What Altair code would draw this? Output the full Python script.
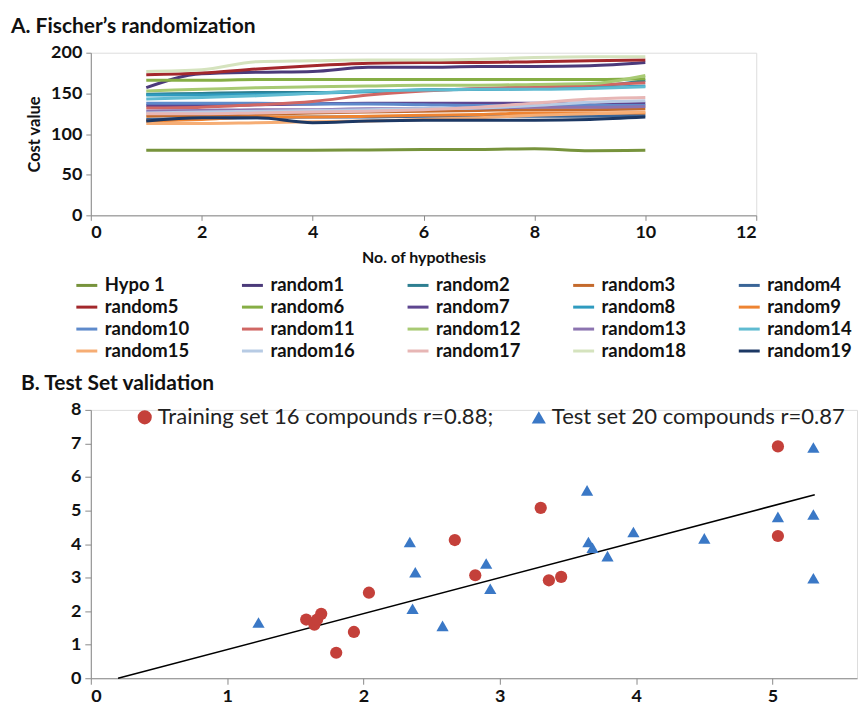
import altair as alt
import pandas as pd

# ---------------- Panel A data ----------------
hyp_x = [1, 2, 3, 4, 5, 6, 7, 8, 9, 10]

hypo1    = [80, 80, 80, 80, 80.5, 81, 81, 82, 79.5, 80]
random1  = [157, 174, 176, 177, 182, 182, 183, 183, 184, 188]
random2  = [149, 150, 151, 151, 153, 154, 155, 156, 158, 166]
random3  = [122, 123, 124, 126, 127, 128, 129, 130, 130, 131]
random4  = [118, 119, 120, 121, 121, 122, 122, 122, 122, 123]
random5  = [173, 175, 180, 184, 187, 188, 188, 189, 190, 191]
random6  = [166, 166, 167, 167, 167, 167, 167, 167, 167, 168]
random7  = [135, 135, 136, 137, 138, 138, 138, 138, 138, 138]
random8  = [148, 148, 149, 150, 152, 154, 155, 156, 157, 159]
random9  = [116, 118, 121, 121, 122, 123, 124, 126, 126, 126]
random10 = [138, 138, 138, 137, 137, 136, 135, 135, 135, 135]
random11 = [132, 133, 136, 140, 148, 153, 156, 158, 160, 163]
random12 = [153, 155, 157, 158, 159, 160, 160, 161, 162, 172]
random13 = [128, 129, 130, 130, 131, 131, 132, 133, 133, 134]
random14 = [143, 145, 147, 150, 153, 154, 155, 155, 156, 158]
random15 = [113, 113, 114, 115, 116, 118, 120, 123, 125, 127]
random16 = [126, 127, 128, 129, 130, 131, 132, 135, 139, 141]
random17 = [125, 125, 126, 127, 128, 130, 133, 138, 143, 145]
random18 = [177, 179, 189, 190, 191, 191, 192, 194, 195, 195]
random19 = [116, 120, 120, 114, 116, 117, 117, 117, 118, 121]

series_names = ["Hypo 1", "random1", "random2", "random3", "random4",
                "random5", "random6", "random7", "random8", "random9",
                "random10", "random11", "random12", "random13", "random14",
                "random15", "random16", "random17", "random18", "random19"]
series_values = [hypo1, random1, random2, random3, random4,
                 random5, random6, random7, random8, random9,
                 random10, random11, random12, random13, random14,
                 random15, random16, random17, random18, random19]
series_colors = ["#77933C", "#4B3A7A", "#2E7F91", "#C46A2C", "#3A6597",
                 "#A3282C", "#86AE45", "#5E4690", "#2F9BBF", "#EE8432",
                 "#5E8ACB", "#D06764", "#A8CA73", "#8C74B0", "#5FBBD1",
                 "#F6AD74", "#B7CBE4", "#E7B6B5", "#D5E3BE", "#1C3864"]

hyp_ticks = [0, 2, 4, 6, 8, 10, 12]
cost_ticks = [0, 50, 100, 150, 200]

# ---------------- Panel B data ----------------
train_label = "Training set 16 compounds r=0.88;"
test_label = "Test set 20 compounds r=0.87"

train_x = [1.58, 1.64, 1.66, 1.69, 1.80, 1.93, 2.04, 2.67, 2.82, 3.30, 3.36, 3.45, 5.04, 5.04]
train_y = [1.75, 1.60, 1.75, 1.92, 0.76, 1.38, 2.55, 4.12, 3.07, 5.08, 2.92, 3.02, 6.91, 4.24]

test_x = [1.23, 2.34, 2.38, 2.36, 2.58, 2.90, 2.93, 3.64, 3.65, 3.68, 3.79, 3.98, 4.50, 5.04, 5.30, 5.30, 5.30]
test_y = [1.66, 4.06, 3.16, 2.07, 1.56, 3.42, 2.67, 5.60, 4.06, 3.89, 3.64, 4.36, 4.17, 4.81, 6.88, 4.88, 2.98]

fit_x = [0.20, 5.31]
fit_y = [0.00, 5.47]

b_x_ticks = [0, 1, 2, 3, 4, 5]
b_y_ticks = [0, 1, 2, 3, 4, 5, 6, 7, 8]

FONT = "Lato"
AXIS_GRAY = "#8a8a8a"

# ---------------- Panel A ----------------
rows = []
for name, vals in zip(series_names, series_values):
    for xv, v in zip(hyp_x, vals):
        rows.append({"series": name, "hyp": xv, "cost": v})
df_top = pd.DataFrame(rows)

top = alt.Chart(df_top).mark_line(strokeWidth=3, interpolate="monotone").encode(
    x=alt.X("hyp:Q", scale=alt.Scale(domain=[0, 12], nice=False),
            axis=alt.Axis(title="No. of hypothesis", values=hyp_ticks, grid=False,
                          domainColor=AXIS_GRAY, tickColor=AXIS_GRAY, tickSize=5,
                          labelFont=FONT, labelFontWeight="bold", labelFontSize=18,
                          labelColor="#111", labelPadding=3,
                          titleFont=FONT, titleFontWeight="bold", titleFontSize=16,
                          titleColor="#111", titlePadding=8)),
    y=alt.Y("cost:Q", scale=alt.Scale(domain=[0, 200], nice=False),
            axis=alt.Axis(title="Cost value", values=cost_ticks, grid=False,
                          domainColor=AXIS_GRAY, tickColor=AXIS_GRAY, tickSize=5,
                          labelFont=FONT, labelFontWeight="bold", labelFontSize=18,
                          labelColor="#111", labelPadding=4,
                          titleFont=FONT, titleFontWeight="bold", titleFontSize=16.5,
                          titleColor="#111", titlePadding=8)),
    color=alt.Color("series:N",
                    scale=alt.Scale(domain=series_names, range=series_colors),
                    sort=series_names,
                    legend=alt.Legend(title=None, orient="none", legendX=-16, legendY=221,
                                      direction="horizontal", columns=5, gridAlign="all",
                                      columnPadding=46, rowPadding=0,
                                      symbolType="stroke", symbolSize=441,
                                      symbolStrokeWidth=3, labelOffset=6,
                                      labelFont=FONT, labelFontWeight="bold",
                                      labelFontSize=18.5, labelColor="#111",
                                      labelLimit=300)),
).properties(
    width=667, height=163,
    title=alt.TitleParams("A. Fischer’s randomization", anchor="start", frame="group",
                          dx=-80, offset=7, font=FONT, fontWeight="bold",
                          fontSize=21, color="#111"),
)

# ---------------- Panel B ----------------
df_pts = pd.concat([
    pd.DataFrame({"x": train_x, "y": train_y, "set": train_label}),
    pd.DataFrame({"x": test_x, "y": test_y, "set": test_label}),
])
df_fit = pd.DataFrame({"x": fit_x, "y": fit_y})

bx = alt.X("x:Q", scale=alt.Scale(domain=[0, 5.62], nice=False),
           axis=alt.Axis(title=None, values=b_x_ticks, grid=False,
                         domainColor=AXIS_GRAY, tickColor=AXIS_GRAY, tickSize=6,
                         labelFont=FONT, labelFontWeight="bold", labelFontSize=18,
                         labelColor="#111", labelPadding=3))
by = alt.Y("y:Q", scale=alt.Scale(domain=[0, 8], nice=False),
           axis=alt.Axis(title=None, values=b_y_ticks, grid=False,
                         domainColor=AXIS_GRAY, tickColor=AXIS_GRAY, tickSize=6,
                         labelFont=FONT, labelFontWeight="bold", labelFontSize=18,
                         labelColor="#111", labelPadding=4))

leg_b = alt.Legend(title=None, orient="none", legendX=43, legendY=-4,
                   direction="horizontal", columnPadding=34,
                   labelFont=FONT, labelFontSize=22.1, labelColor="#222",
                   labelLimit=500, symbolSize=200, labelOffset=2,
                   symbolStrokeWidth=0)

fit_line = alt.Chart(df_fit).mark_line(color="black", strokeWidth=1.5).encode(x=bx, y=by)

points = alt.Chart(df_pts).mark_point(filled=True, size=150, opacity=1).encode(
    x=bx, y=by,
    color=alt.Color("set:N", scale=alt.Scale(domain=[train_label, test_label],
                                             range=["#C4403A", "#3A78C6"]),
                    legend=leg_b),
    shape=alt.Shape("set:N", scale=alt.Scale(domain=[train_label, test_label],
                                             range=["circle", "triangle-up"]),
                    legend=leg_b),
)

bottom = alt.layer(fit_line, points).properties(
    width=768, height=269,
    title=alt.TitleParams("B. Test Set  validation", anchor="start", frame="group",
                          dx=-70, offset=7, font=FONT, fontWeight="bold",
                          fontSize=21, color="#111"),
)

chart = alt.vconcat(top, bottom, spacing=10).resolve_scale(
    color="independent", shape="independent"
).resolve_legend(color="independent", shape="independent").properties(
    padding={"left": 2, "top": 6, "right": 0, "bottom": 0}
).configure_view(stroke=None).configure(background="white")

chart.save("out.html", embed_options={"renderer": "svg", "actions": False})
